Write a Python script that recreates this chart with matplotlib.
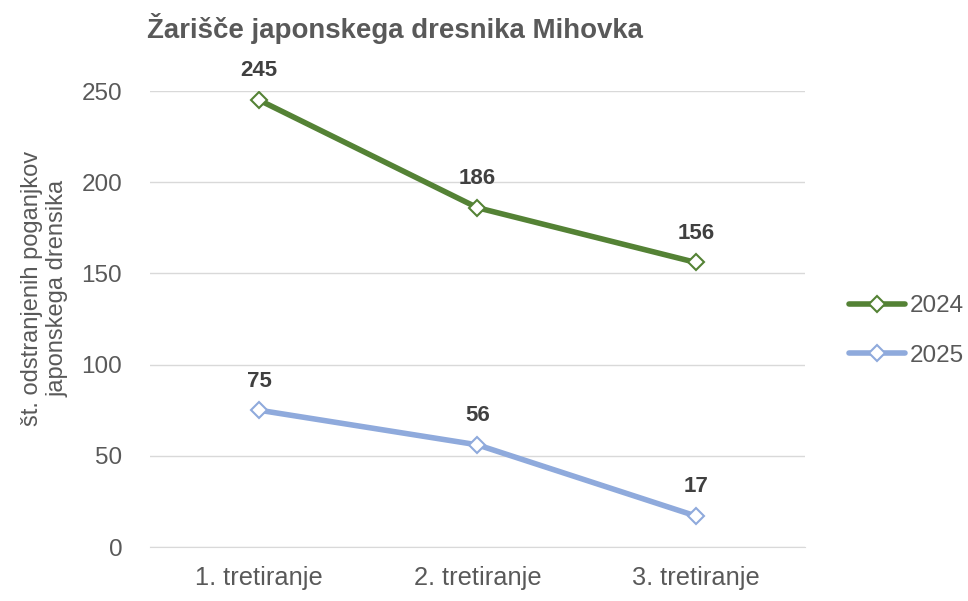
import matplotlib
matplotlib.use("Agg")
import matplotlib.pyplot as plt

categories = ["1. tretiranje", "2. tretiranje", "3. tretiranje"]
series_2024 = [245, 186, 156]
series_2025 = [75, 56, 17]
yticks = [0, 50, 100, 150, 200, 250]
title = "Žarišče japonskega dresnika Mihovka"
ylabel = "št. odstranjenih poganjkov\njaponskega drensika"

plt.rcParams['font.family'] = ['Liberation Sans', 'DejaVu Sans']
txt = '#595959'

fig = plt.figure(figsize=(9.68, 6.01), dpi=100)
ax = fig.add_axes([150/968, 1-547/601, 655/968, 456/601])

x = list(range(len(categories)))
green = '#548235'
blue = '#8FAADC'
ax.plot(x, series_2024, color=green, lw=4, marker='D', ms=8.5, mfc='white',
        mec=green, mew=1.5, label='2024', solid_capstyle='round', zorder=3)
ax.plot(x, series_2025, color=blue, lw=4, marker='D', ms=8.5, mfc='white',
        mec=blue, mew=1.5, label='2025', solid_capstyle='round', zorder=3)

for xs, ys in [(x, series_2024), (x, series_2025)]:
    for xi, yi in zip(xs, ys):
        ax.annotate(str(yi), (xi, yi), xytext=(0, 21), textcoords='offset points',
                    ha='center', va='center', fontsize=16, fontweight='bold', color='#404040')

ax.set_xlim(-0.5, 2.5)
ax.set_ylim(0, 250)
ax.set_yticks(yticks)
ax.set_xticks(x)
ax.set_xticklabels(categories)
ax.tick_params(axis='both', length=0, labelsize=17.5, colors=txt)
ax.tick_params(axis='y', pad=20)
ax.tick_params(axis='x', pad=14)
ax.tick_params(axis='x', labelsize=18.3)
ax.grid(axis='y', color='#D9D9D9', lw=1)
ax.set_axisbelow(True)
for s in ['top', 'right', 'left']:
    ax.spines[s].set_visible(False)
ax.spines['bottom'].set_color('#D9D9D9')
ax.set_ylabel(ylabel, fontsize=17, color=txt, linespacing=1.25)
ax.yaxis.set_label_coords(-0.124, 0.566)

fig.text(147/968, 1-28/601, title, fontsize=19.9, fontweight='bold', color=txt, va='center', ha='left')

leg = fig.legend(loc='center left', bbox_to_anchor=(849/968, 1-331/601), frameon=False,
                 fontsize=17.5, labelcolor=txt, handlelength=2.3, handletextpad=0.2,
                 labelspacing=1.15, borderpad=0, borderaxespad=0)

fig.savefig('out.png', dpi=100)
